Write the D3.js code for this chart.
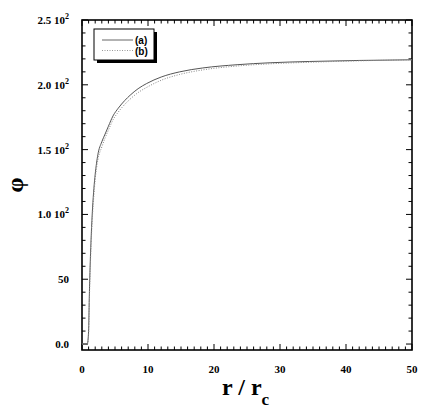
<!DOCTYPE html>
<html>
<head>
<meta charset="utf-8">
<script src="https://cdn.jsdelivr.net/npm/d3@7"></script>
<style>
  body { margin: 0; background: #fff; }
</style>
</head>
<body>
<svg id="chart"></svg>
<script>
// r / rc values
const rValues = [0, 0.8, 1.0, 1.1, 1.2, 1.4, 1.6, 1.8, 2.0, 2.4, 3.0, 3.5, 4.0, 4.7, 5.5, 6.5, 7.3, 8.5, 9.8, 12, 14.8, 18.3, 23.5, 28.5, 34.5, 42, 50];
const phiA = [0, 0, 10, 35, 55, 84, 105, 120, 131, 146, 156, 162, 168, 176, 182, 188, 192, 197, 201, 206, 210, 213, 215.5, 217, 218, 218.8, 219.3];
const phiB = [0, 0, 7, 30, 50, 79, 100, 115, 127, 142, 152, 159, 165, 173, 179, 185, 189, 194, 198, 203.5, 208, 211.5, 214.5, 216.2, 217.4, 218.5, 219.3];
const seriesNames = ["(a)", "(b)"];
const xMajor = [0, 10, 20, 30, 40, 50];
const yMajor = [0, 50, 100, 150, 200, 250];
const yLabelMain = ["0.0", "50", "1.0 10", "1.5 10", "2.0 10", "2.5 10"];
const yLabelExp = ["", "", "2", "2", "2", "2"];

const W = 443, H = 415;
const margin = { top: 20, right: 31, bottom: 65, left: 82 };
const width = W - margin.left - margin.right,
      height = H - margin.top - margin.bottom;
const serif = "'Liberation Serif', 'Times New Roman', serif";

const svg = d3.select("#chart").attr("width", W).attr("height", H);
const g = svg.append("g").attr("transform", "translate(" + margin.left + "," + margin.top + ")");

const x = d3.scaleLinear().domain([0, 50]).range([0, width]);
const y = d3.scaleLinear().domain([-4.6, 250]).range([height, 0]);

const xMinor = d3.range(0, 51, 1);
const yMinor = d3.range(0, 251, 10);

// ticks on all four sides, pointing inward
const tickStyle = sel => sel.attr("stroke", "#000").attr("stroke-width", 1);
g.append("g").selectAll("line").data(xMinor).enter().append("line")
    .attr("x1", d => x(d)).attr("x2", d => x(d))
    .attr("y1", height).attr("y2", d => height - (d % 10 === 0 ? 6 : 3.5))
    .call(tickStyle);
g.append("g").selectAll("line").data(xMinor).enter().append("line")
    .attr("x1", d => x(d)).attr("x2", d => x(d))
    .attr("y1", 0).attr("y2", d => (d % 10 === 0 ? 6 : 3.5))
    .call(tickStyle);
g.append("g").selectAll("line").data(yMinor).enter().append("line")
    .attr("y1", d => y(d)).attr("y2", d => y(d))
    .attr("x1", 0).attr("x2", d => (d % 50 === 0 ? 6 : 3.5))
    .call(tickStyle);
g.append("g").selectAll("line").data(yMinor).enter().append("line")
    .attr("y1", d => y(d)).attr("y2", d => y(d))
    .attr("x1", width).attr("x2", d => width - (d % 50 === 0 ? 6 : 3.5))
    .call(tickStyle);

// frame
g.append("rect")
    .attr("width", width).attr("height", height)
    .attr("fill", "none").attr("stroke", "#000").attr("stroke-width", 1.6);

// tick labels
g.append("g").selectAll("text").data(xMajor).enter().append("text")
    .attr("font-family", serif).attr("font-weight", "bold").attr("font-size", 11)
    .attr("x", d => x(d)).attr("y", height + 23)
    .attr("text-anchor", "middle")
    .text(d => d);

const yl = g.append("g").selectAll("text").data(yMajor).enter().append("text")
    .attr("font-family", serif).attr("font-weight", "bold").attr("font-size", 11)
    .attr("x", -13).attr("y", d => y(d) + 4)
    .attr("text-anchor", "end");
yl.append("tspan").text(d => yLabelMain[yMajor.indexOf(d)]);
yl.append("tspan")
    .attr("dy", -5).attr("font-size", 8)
    .text(d => yLabelExp[yMajor.indexOf(d)]);

// axis titles
svg.append("text")
    .attr("transform", "translate(23,185) rotate(-90)")
    .attr("text-anchor", "middle")
    .attr("font-family", serif)
    .attr("font-weight", "bold")
    .attr("font-size", 24)
    .text("φ");

const xt = svg.append("text")
    .attr("x", 222).attr("y", 395)
    .attr("font-family", serif)
    .attr("font-weight", "bold")
    .attr("font-size", 24);
xt.append("tspan").text("r / r");
xt.append("tspan").attr("dy", 10).attr("font-size", 17).text("c");

// curves
const line = d3.line().x((d, i) => x(rValues[i])).y(d => y(d)).curve(d3.curveMonotoneX);
g.append("path").datum(phiA)
    .attr("d", line).attr("fill", "none")
    .attr("stroke", "#555").attr("stroke-width", 1);
g.append("path").datum(phiB)
    .attr("d", line).attr("fill", "none")
    .attr("stroke", "#888").attr("stroke-width", 1)
    .attr("stroke-dasharray", "1,1.5");

// legend
const lg = svg.append("g").attr("transform", "translate(94,29)");
lg.append("rect").attr("x", 3).attr("y", 3).attr("width", 60).attr("height", 31).attr("fill", "#000");
lg.append("rect").attr("width", 60).attr("height", 31).attr("fill", "#fff").attr("stroke", "#000").attr("stroke-width", 1);
const items = lg.selectAll(".item").data(seriesNames).enter().append("g")
    .attr("transform", (d, i) => "translate(0," + (11 + i * 10.5) + ")");
items.append("line").attr("x1", 8).attr("x2", 39).attr("y1", 0).attr("y2", 0)
    .attr("stroke", (d, i) => i ? "#999" : "#666").attr("stroke-width", 1)
    .attr("stroke-dasharray", (d, i) => i ? "1,1.5" : null);
items.append("text").attr("x", 41).attr("y", 4)
    .attr("font-family", "'Liberation Sans', Arial, sans-serif")
    .attr("font-weight", "bold").attr("font-size", 10)
    .text(d => d);
</script>
</body>
</html>
